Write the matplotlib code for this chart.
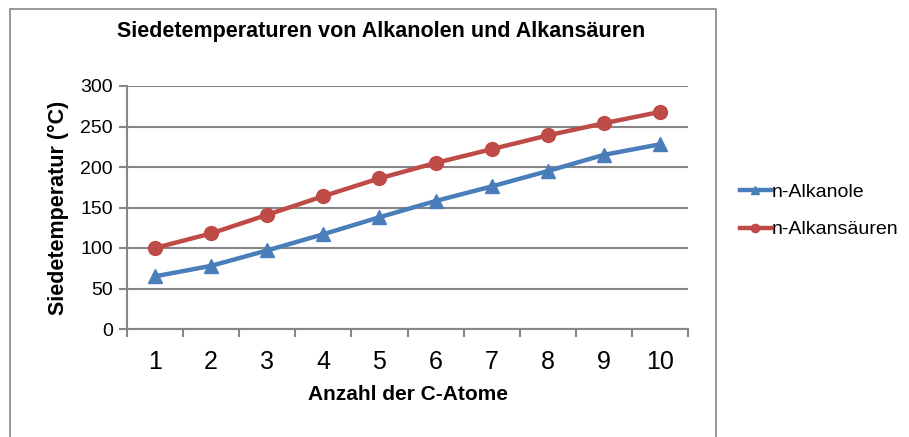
import matplotlib.pyplot as plt
from matplotlib.patches import Rectangle

plt.rcParams['font.family'] = ['Liberation Sans', 'DejaVu Sans']

# Daten
c_atome = ['1', '2', '3', '4', '5', '6', '7', '8', '9', '10']
alkanole = [65, 78, 97, 117, 138, 158, 176, 195, 215, 228]
alkansaeuren = [100, 118, 141, 164, 186, 205, 222, 239, 254, 268]
y_ticks = [0, 50, 100, 150, 200, 250, 300]

blau = '#4A7EBB'
rot = '#BE4B48'
grau = '#868686'

fig = plt.figure(figsize=(9.09, 4.37), dpi=100, facecolor='white')
ax = fig.add_axes([127 / 909, 1 - 329 / 437, (688 - 127) / 909, (329 - 86) / 437])

# Rahmen um das Diagramm
fig.patches.append(Rectangle((10 / 909, -0.05), (716 - 10) / 909, 1.05 - 9 / 437,
                             transform=fig.transFigure, fill=False,
                             edgecolor=grau, lw=1.2))

x = list(range(len(c_atome)))
ax.plot(x, alkanole, color=blau, lw=3.2, marker='^', ms=10, label='n-Alkanole', zorder=3)
ax.plot(x, alkansaeuren, color=rot, lw=3.2, marker='o', ms=10, label='n-Alkansäuren', zorder=3)

ax.set_xlim(-0.5, len(c_atome) - 0.5)
ax.set_ylim(0, 300)
ax.set_yticks(y_ticks)
ax.set_yticklabels([str(v) for v in y_ticks], fontsize=14)
ax.yaxis.grid(True, color=grau, lw=1.5)
ax.set_axisbelow(True)

# Kategorien-Achse: Striche zwischen den Kategorien
ax.set_xticks([i - 0.5 for i in range(len(c_atome) + 1)])
ax.set_xticklabels([])
ax.set_xticks(x, minor=True)
ax.set_xticklabels(c_atome, minor=True, fontsize=18)
ax.tick_params(axis='x', which='minor', length=0, pad=15)
ax.tick_params(axis='x', which='major', length=6, color=grau, width=1.5, direction='out')
ax.tick_params(axis='y', length=6, color=grau, width=1.5, direction='out', pad=4)

for s in ['top', 'right']:
    ax.spines[s].set_visible(False)
for s in ['left', 'bottom']:
    ax.spines[s].set_color(grau)
    ax.spines[s].set_linewidth(1.5)

ax.set_xlabel('Anzahl der C-Atome', fontsize=15, fontweight='bold', labelpad=8)
ax.set_ylabel('Siedetemperatur (°C)', fontsize=15.5, fontweight='bold', labelpad=8)
fig.text(381 / 909, 1 - 32 / 437, 'Siedetemperaturen von Alkanolen und Alkansäuren',
         ha='center', va='center', fontsize=15.5, fontweight='bold')

ax.legend(loc='center left', bbox_to_anchor=(722 / 909, 1 - 211 / 437),
          bbox_transform=fig.transFigure, frameon=False, fontsize=14,
          handlelength=1.6, handletextpad=0.05, labelspacing=1.0, markerscale=0.6)

fig.savefig('out.png', dpi=100)
